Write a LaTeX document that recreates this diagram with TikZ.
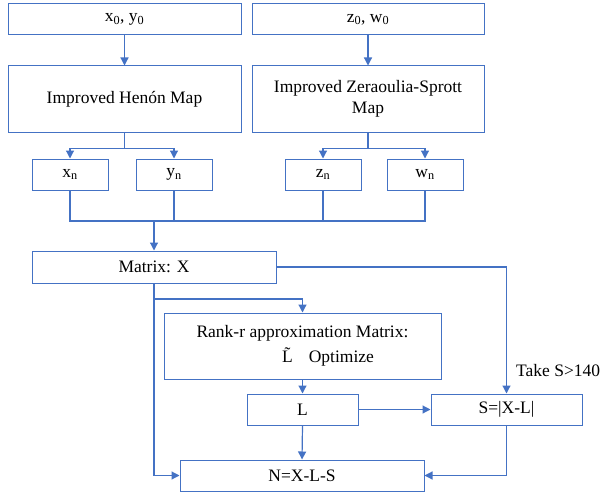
\documentclass[tikz,border=0pt]{standalone}
\usepackage{fontspec}
\setmainfont{Liberation Serif}
\usetikzlibrary{arrows.meta}
\definecolor{flowblue}{HTML}{4472C4}
\begin{document}
\begin{tikzpicture}[x=1pt,y=-1pt,
  box/.style={draw=flowblue, line width=1pt, inner sep=0pt, align=center,
    font=\fontsize{17.5}{21}\selectfont},
  wire/.style={draw=flowblue, line width=1.2pt},
  arrow/.style={wire, -{Triangle[length=8pt,width=8pt]}}]
\useasboundingbox (0,0) rectangle (602,495);

% inputs and chaotic maps
\node[box, minimum width=233, minimum height=31] (in1) at (124.5,19.5) {x\textsubscript{0}, y\textsubscript{0}};
\node[box, minimum width=232, minimum height=31] (in2) at (368,19.5) {z\textsubscript{0}, w\textsubscript{0}};
\node[box, minimum width=233, minimum height=66] (hen) at (124.5,99) {Improved Henón Map};
\node[box, minimum width=232, minimum height=66] (zs) at (368,99) {Improved Zeraoulia-Sprott\\Map};

% sequences
\node[box, minimum width=76, minimum height=31] (xn) at (70,174.5) {x\textsubscript{n}};
\node[box, minimum width=76, minimum height=31] (yn) at (174,174.5) {y\textsubscript{n}};
\node[box, minimum width=76, minimum height=31] (zn) at (323,174.5) {z\textsubscript{n}};
\node[box, minimum width=76, minimum height=31] (wn) at (425,174.5) {w\textsubscript{n}};

% decomposition
\node[box, minimum width=244, minimum height=32] (mat) at (154,267) {Matrix: X};
\node[box, minimum width=277, minimum height=66, font=\fontsize{17.5}{25}\selectfont] (rank) at (302.5,346)
  {Rank-r approximation Matrix:\\\hspace*{51pt}\~{L}\hspace{16pt}Optimize};
\node[box, minimum width=111, minimum height=31] (L) at (302.5,409.5) {L};
\node[box, minimum width=151, minimum height=31] (S) at (506.5,409.5) {S=|X-L|};
\node[box, minimum width=244, minimum height=31] (N) at (302,475.5) {N=X-L-S};
\node[anchor=west, inner sep=0pt, font=\fontsize{17.5}{21}\selectfont] (take) at (516,371) {Take S>140};

% connectors
\draw[arrow] (in1.south) -- (hen.north);
\draw[arrow] (in2.south) -- (zs.north);
\draw[wire] (hen.south) -- ++(0,16) coordinate (hs);
\draw[arrow] (hs) -| (xn.north);
\draw[arrow] (hs) -| (yn.north);
\draw[wire] (zs.south) -- ++(0,16) coordinate (zsj);
\draw[arrow] (zsj) -| (zn.north);
\draw[arrow] (zsj) -| (wn.north);

\coordinate (jn) at (154,221);
\draw[wire] (xn.south) |- (jn) -| (wn.south);
\draw[wire] (yn.south) -- (yn.south |- jn);
\draw[wire] (zn.south) -- (zn.south |- jn);
\draw[arrow] (jn) -- (mat.north);

\draw[arrow] (mat.east) -| (S.north);
\draw[arrow] (mat.south) |- (N.west);
\coordinate (mj) at (154,299);
\draw[arrow] (mj) -| (rank.north);
\draw[arrow] (rank.south) -- (L.north);
\draw[arrow] (L.east) -- (S.west);
\draw[arrow] (L.south) -- (N.north);
\draw[arrow] (S.south) |- (N.east);
\end{tikzpicture}
\end{document}
